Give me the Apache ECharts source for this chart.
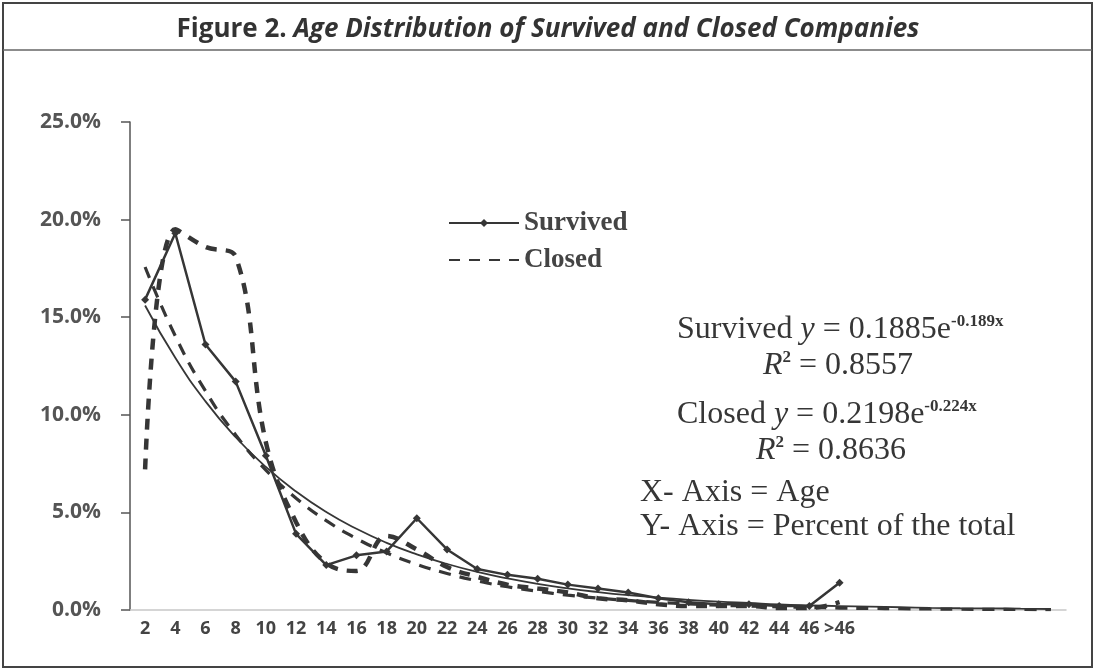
<!DOCTYPE html>
<html>
<head>
<meta charset="utf-8">
<script src="https://cdn.jsdelivr.net/npm/echarts/dist/echarts.min.js"></script>
<style>
  html, body { margin: 0; padding: 0; background: #fff; }
  #chart { width: 1096px; height: 672px; }
</style>
</head>
<body>
<div id="chart"></div>
<script>
// age groups shown on the axis, plus empty slots the trendlines run into
const ageLabels = ['2','4','6','8','10','12','14','16','18','20','22','24','26','28','30','32','34','36','38','40','42','44','46','>46'];
const forecastSlots = ['', '', '', '', '', '', ''];

// percent of total
const survived = [15.9, 19.3, 13.6, 11.7, 7.9, 3.9, 2.3, 2.8, 3.0, 4.7, 3.1, 2.1, 1.8, 1.6, 1.3, 1.1, 0.9, 0.6, 0.4, 0.3, 0.3, 0.2, 0.2, 1.4];
const closed = [7.2, 19.5, 18.6, 18.1, 8.6, 4.5, 2.4, 2.0, 3.8, 3.1, 2.2, 1.7, 1.3, 1.1, 0.9, 0.6, 0.5, 0.3, 0.2, 0.2, 0.2, 0.1, 0.1, 0.4];

// exponential trendlines as drawn (y = 0.1885e^-0.189x, y = 0.2198e^-0.224x)
const survivedTrend = [15.60, 12.92, 10.69, 8.85, 7.33, 6.07, 5.02, 4.16, 3.44, 2.85, 2.36, 1.95, 1.62, 1.34, 1.11, 0.92, 0.76, 0.63, 0.52, 0.43, 0.36, 0.29, 0.24, 0.20, 0.17, 0.14, 0.11, 0.09, 0.08, 0.07, 0.05];
const closedTrend = [17.57, 14.04, 11.22, 8.97, 7.17, 5.73, 4.58, 3.66, 2.93, 2.34, 1.87, 1.49, 1.19, 0.96, 0.76, 0.61, 0.49, 0.39, 0.31, 0.25, 0.20, 0.16, 0.13, 0.10, 0.08, 0.065, 0.05, 0.04, 0.03, 0.026, 0.02];

const yTicks = [0, 5, 10, 15, 20, 25];

const ink = '#363636';
const serif = '"Liberation Serif", "Times New Roman", serif';
const sans = '"Open Sans", Lato, sans-serif';

const chart = echarts.init(document.getElementById('chart'));

const eqRich = {
  n: { fontFamily: serif, fontSize: 32, color: ink, lineHeight: 34 },
  i: { fontFamily: serif, fontSize: 32, fontStyle: 'italic', color: ink, lineHeight: 34 },
  s: { fontFamily: serif, fontSize: 17, fontWeight: 'bold', color: ink, verticalAlign: 'top', lineHeight: 34, padding: [0, 0, 16, 0] }
};

function eqText(x, y, text, align) {
  return {
    type: 'text', x: x, y: y,
    style: { text: text, rich: eqRich, align: align || 'left', verticalAlign: 'middle', fill: ink }
  };
}

chart.setOption({
  backgroundColor: '#fff',
  animation: false,
  title: {
    text: '{b|Figure 2. }{bi|Age Distribution of Survived and Closed Companies}',
    left: 'center',
    top: 12,
    textStyle: {
      rich: {
        b: { fontFamily: sans, fontSize: 26, fontWeight: 'bold', color: '#333' },
        bi: { fontFamily: sans, fontSize: 26, fontWeight: 'bold', fontStyle: 'italic', color: '#333' }
      }
    }
  },
  legend: {
    data: [
      { name: 'Survived' },
      { name: 'Closed', itemStyle: { opacity: 0 } }
    ],
    orient: 'vertical',
    left: 443,
    top: 204,
    itemWidth: 70,
    itemHeight: 10,
    itemGap: 9,
    textStyle: { fontFamily: serif, fontSize: 27, lineHeight: 28, fontWeight: 'bold', color: '#444' }
  },
  grid: { left: 130, top: 122, width: 936, height: 488, containLabel: false },
  xAxis: {
    type: 'category',
    data: ageLabels.concat(forecastSlots),
    boundaryGap: true,
    axisLine: { lineStyle: { color: '#c8c8c8', width: 1.5 } },
    axisTick: { show: false },
    axisLabel: { interval: 0, margin: 10, fontFamily: sans, fontSize: 18, fontWeight: 'bold', color: '#444' },
    splitLine: { show: false }
  },
  yAxis: {
    type: 'value',
    min: yTicks[0],
    max: yTicks[yTicks.length - 1],
    interval: 5,
    axisLine: { show: true, lineStyle: { color: '#555', width: 1.5 } },
    axisTick: { show: true, length: 9, lineStyle: { color: '#555', width: 1.5 } },
    axisLabel: { margin: 29, fontFamily: sans, fontSize: 21, fontWeight: 'bold', color: '#555', formatter: v => v.toFixed(1) + '%' },
    splitLine: { show: false }
  },
  series: [
    {
      name: 'Survived trend', type: 'line', data: survivedTrend, smooth: true,
      symbol: 'none', lineStyle: { color: ink, width: 1.8 }, z: 2
    },
    {
      name: 'Closed trend', type: 'line', data: closedTrend, smooth: true,
      symbol: 'none', lineStyle: { color: ink, width: 3.2, type: [12, 9] }, z: 2
    },
    {
      name: 'Survived', type: 'line', data: survived,
      symbol: 'diamond', symbolSize: 8,
      itemStyle: { color: ink }, lineStyle: { color: ink, width: 2.5 }, z: 4
    },
    {
      name: 'Closed', type: 'line', data: closed, smooth: 0.4,
      symbol: 'none', itemStyle: { color: ink },
      lineStyle: { color: ink, width: 4.5, type: [11, 9] }, z: 3
    }
  ],
  graphic: [
    { type: 'rect', shape: { x: 3, y: 3, width: 1089, height: 664 }, style: { fill: 'none', stroke: '#444', lineWidth: 2 }, silent: true },
    { type: 'line', shape: { x1: 3, y1: 50, x2: 1092, y2: 50 }, style: { stroke: '#666', lineWidth: 1.5 }, silent: true },
    eqText(677, 330, '{n|Survived }{i|y}{n| = 0.1885e}{s|-0.189x}'),
    eqText(838, 366, '{i|R}{s|2}{n| = 0.8557}', 'center'),
    eqText(677, 415, '{n|Closed }{i|y}{n| = 0.2198e}{s|-0.224x}'),
    eqText(831, 451, '{i|R}{s|2}{n| = 0.8636}', 'center'),
    eqText(640, 493, '{n|X- Axis = Age}'),
    eqText(640, 527, '{n|Y- Axis = Percent of the total}')
  ]
});
</script>
</body>
</html>
